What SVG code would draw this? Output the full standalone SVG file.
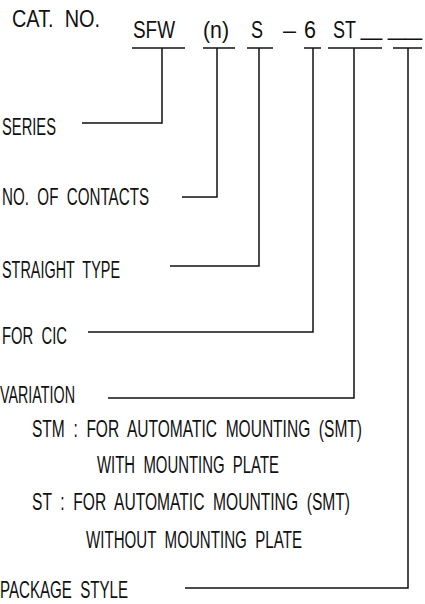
<svg xmlns="http://www.w3.org/2000/svg" width="425" height="604" viewBox="0 0 425 604" xml:space="preserve">
<style>
text{font-family:"Liberation Sans",Arial,sans-serif;font-size:24.5px;fill:#111;white-space:pre;}
.ln{fill:none;stroke:#111;stroke-width:1.5;}
</style>
<rect width="425" height="604" fill="#fff"/>
<g id="catno">
<text x="12" y="27" textLength="88" lengthAdjust="spacingAndGlyphs">CAT.  NO.</text>
</g>
<g id="code">
<text x="133" y="38" textLength="42" lengthAdjust="spacingAndGlyphs">SFW</text>
<text x="203" y="38" textLength="26" lengthAdjust="spacingAndGlyphs">(n)</text>
<text x="251" y="38" textLength="12" lengthAdjust="spacingAndGlyphs">S</text>
<text x="283" y="38" textLength="13" lengthAdjust="spacingAndGlyphs">–</text>
<text x="304" y="38" textLength="12" lengthAdjust="spacingAndGlyphs">6</text>
<text x="333" y="38" textLength="23" lengthAdjust="spacingAndGlyphs">ST</text>
<text x="361" y="35" textLength="21" lengthAdjust="spacingAndGlyphs">_</text>
<text x="388" y="35" textLength="34" lengthAdjust="spacingAndGlyphs">__</text>
</g>
<g id="series"><text x="2" y="135" textLength="54" lengthAdjust="spacingAndGlyphs">SERIES</text></g>
<g id="contacts"><text x="2" y="205" textLength="147" lengthAdjust="spacingAndGlyphs">NO.  OF  CONTACTS</text></g>
<g id="straight"><text x="2" y="278" textLength="118" lengthAdjust="spacingAndGlyphs">STRAIGHT  TYPE</text></g>
<g id="forcic"><text x="2" y="344" textLength="65" lengthAdjust="spacingAndGlyphs">FOR  CIC</text></g>
<g id="variation">
<text x="0" y="403" textLength="75" lengthAdjust="spacingAndGlyphs">VARIATION</text>
<text x="32" y="437" textLength="330" lengthAdjust="spacingAndGlyphs">STM  :  FOR  AUTOMATIC  MOUNTING  (SMT)</text>
<text x="97" y="473" textLength="182" lengthAdjust="spacingAndGlyphs">WITH  MOUNTING  PLATE</text>
<text x="32" y="510" textLength="318" lengthAdjust="spacingAndGlyphs">ST  :  FOR  AUTOMATIC  MOUNTING  (SMT)</text>
<text x="86" y="548" textLength="216" lengthAdjust="spacingAndGlyphs">WITHOUT  MOUNTING  PLATE</text>
</g>
<g id="package"><text x="0" y="598" textLength="128" lengthAdjust="spacingAndGlyphs">PACKAGE  STYLE</text></g>
<g id="connectors" class="ln">
<line x1="132" y1="48" x2="185" y2="48"/>
<polyline points="82,123 162,123 162,48"/>
<line x1="203" y1="48" x2="235" y2="48"/>
<polyline points="182,197 217,197 217,48"/>
<line x1="247" y1="48" x2="273" y2="48"/>
<polyline points="170,266 259,266 259,48"/>
<line x1="304" y1="48" x2="321" y2="48"/>
<polyline points="88,332 313,332 313,48"/>
<line x1="328" y1="48" x2="382" y2="48"/>
<polyline points="108,398 354,398 354,48"/>
<line x1="393" y1="48" x2="422" y2="48"/>
<polyline points="185,588 408,588 408,48"/>
</g>
</svg>
